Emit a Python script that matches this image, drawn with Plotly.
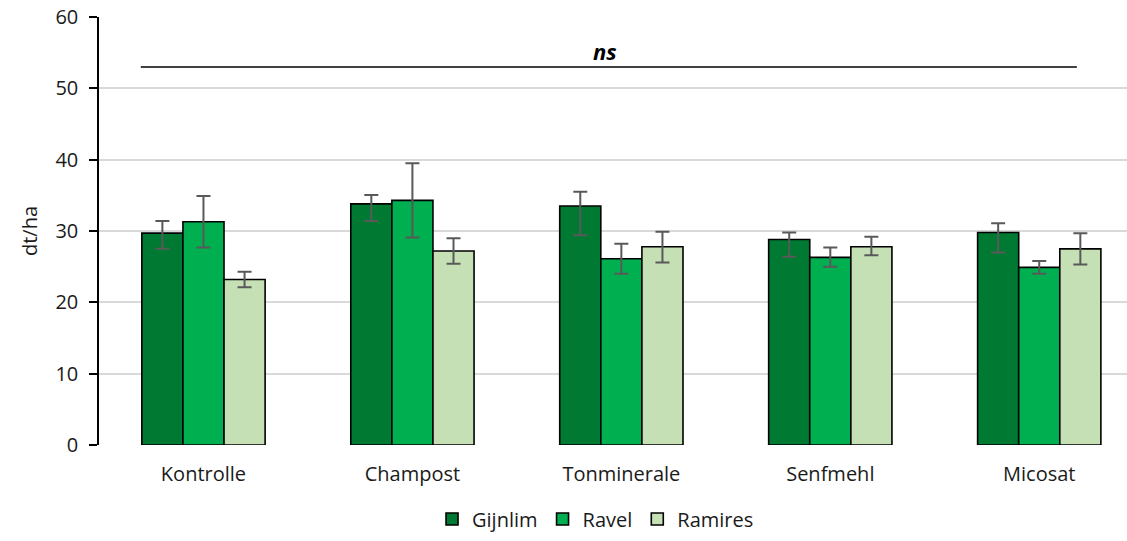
import plotly.graph_objects as go

# Yield per treatment and variety (dt/ha) with error ranges
categories = ["Kontrolle", "Champost", "Tonminerale", "Senfmehl", "Micosat"]
varieties = ["Gijnlim", "Ravel", "Ramires"]

gijnlim = [29.7, 33.8, 33.5, 28.8, 29.8]
gijnlim_plus = [1.7, 1.25, 2.0, 1.0, 1.3]
gijnlim_minus = [2.2, 2.4, 4.1, 2.4, 2.8]

ravel = [31.3, 34.3, 26.1, 26.3, 24.9]
ravel_plus = [3.6, 5.2, 2.1, 1.4, 0.9]
ravel_minus = [3.6, 5.2, 2.1, 1.3, 0.9]

ramires = [23.2, 27.2, 27.8, 27.8, 27.5]
ramires_plus = [1.1, 1.8, 2.1, 1.4, 2.2]
ramires_minus = [1.1, 1.8, 2.2, 1.2, 2.2]

y_ticks = [0, 10, 20, 30, 40, 50, 60]
ns_level = 53

colors = ["#007A33", "#00B050", "#C5E0B4"]
series = [
    (gijnlim, gijnlim_plus, gijnlim_minus),
    (ravel, ravel_plus, ravel_minus),
    (ramires, ramires_plus, ramires_minus),
]

font_family = "'Open Sans', sans-serif"
text_color = "#1a1a1a"

fig = go.Figure()
for name, color, (vals, plus, minus) in zip(varieties, colors, series):
    fig.add_trace(go.Bar(
        name=name,
        x=categories,
        y=vals,
        marker=dict(color=color, line=dict(color="#000000", width=1.6)),
        error_y=dict(type="data", symmetric=False, array=plus, arrayminus=minus,
                     color="#595959", thickness=2, width=7),
    ))

# significance bracket
fig.add_shape(type="line", xref="x", yref="y", x0=-0.30, x1=4.18,
              y0=ns_level, y1=ns_level, line=dict(color="#000000", width=1.5))
fig.add_annotation(x=1.92, y=ns_level, xref="x", yref="y", text="<b><i>ns</i></b>",
                   showarrow=False, yanchor="bottom", yshift=-1,
                   font=dict(size=22, color="#000000", family=font_family))

fig.update_layout(
    width=1127, height=541,
    margin=dict(l=99, r=0, t=17, b=96),
    paper_bgcolor="white", plot_bgcolor="white",
    barmode="group", bargap=0.41, bargroupgap=0,
    font=dict(family=font_family, size=20, color=text_color),
    legend=dict(orientation="h", x=0.483, xanchor="center", y=-0.173, yanchor="middle",
                font=dict(size=20, color=text_color), traceorder="normal",
                itemwidth=30, tracegroupgap=0),
    showlegend=True,
)
fig.update_xaxes(
    range=[-0.5, 4.42], showgrid=False, showline=False, ticks="",
    tickfont=dict(size=20, color=text_color), ticklabelstandoff=15,
    zeroline=False,
)
fig.update_yaxes(
    range=[0, 60], tickvals=y_ticks, showgrid=True, gridcolor="#D9D9D9", gridwidth=1.5,
    showline=True, linecolor="#000000", linewidth=1.5, ticks="outside", ticklen=8,
    tickcolor="#000000", tickwidth=1.5, tickfont=dict(size=20, color=text_color),
    ticklabelstandoff=7, zeroline=False,
    title=dict(text="dt/ha", font=dict(size=20, color=text_color), standoff=12),
)

fig.write_html("out.html")
